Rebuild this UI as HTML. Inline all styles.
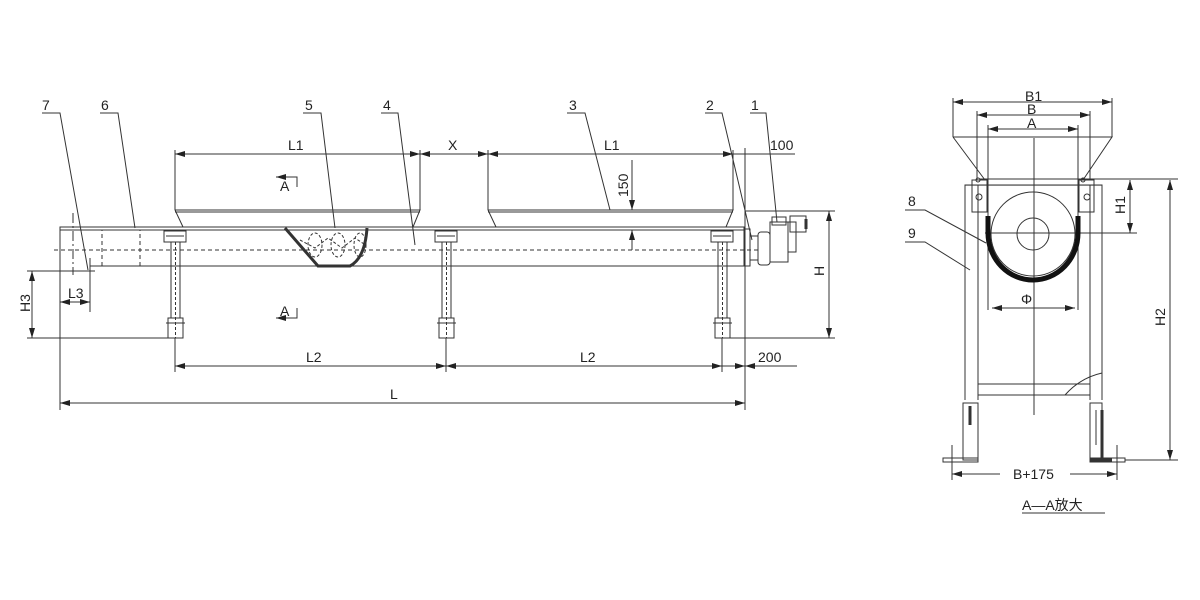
<!DOCTYPE html>
<html><head><meta charset="utf-8"><style>
html,body{margin:0;padding:0;background:#fff}
svg{display:block}
text{font-family:"Liberation Sans","Noto Sans CJK SC",sans-serif;font-size:14px;fill:#222}
</style></head><body>
<svg width="1200" height="600" viewBox="0 0 1200 600" xmlns="http://www.w3.org/2000/svg">
<defs>
<marker id="a" viewBox="0 0 10 6" refX="10" refY="3" markerWidth="10" markerHeight="6" orient="auto-start-reverse" markerUnits="userSpaceOnUse"><path d="M0,0 L10,3 L0,6 z" fill="#222"/></marker>
</defs>
<g fill="none" stroke="#333" stroke-width="1">
<!-- trough -->
<rect x="60" y="227" width="684" height="3"/>
<line x1="60" y1="230" x2="60" y2="266"/>
<line x1="90" y1="266" x2="744" y2="266"/>
<line x1="744" y1="230" x2="744" y2="266"/>
<line x1="54" y1="250" x2="760" y2="250" stroke-dasharray="4,3"/>
<rect x="102" y="230" width="38" height="36" stroke-dasharray="4,3"/>
<line x1="73" y1="213" x2="73" y2="275" stroke-dasharray="10,3,2,3"/>
<line x1="90" y1="258" x2="90" y2="312"/>
<line x1="60" y1="266" x2="60" y2="410"/>
<!-- hoppers -->
<path d="M175,210 L420,210 L413,227 M175,210 L183,227"/>
<line x1="175" y1="212" x2="420" y2="212"/>
<path d="M488,210 L733,210 L726,227 M488,210 L496,227"/>
<line x1="488" y1="212" x2="733" y2="212"/>
<!-- screw section -->
<path d="M285,228 L318,266 L350,266 Q365,258 367,228" stroke-width="3"/>
<path d="M300,240 L315,248 L328,238 L342,248 L355,238 L364,244" stroke-dasharray="3,2"/>
<ellipse cx="315" cy="245" rx="7" ry="12" stroke-dasharray="3,2"/>
<ellipse cx="338" cy="245" rx="7" ry="12" stroke-dasharray="3,2"/>
<ellipse cx="360" cy="245" rx="6" ry="12" stroke-dasharray="3,2"/>
<!-- legs -->
<g id="leg">
<rect x="164" y="231" width="22" height="11"/>
<line x1="166" y1="236" x2="184" y2="236"/>
<rect x="171" y="242" width="9" height="76"/>
<line x1="175.5" y1="242" x2="175.5" y2="338" stroke-dasharray="3,2"/>
<rect x="168" y="318" width="15" height="20"/>
<line x1="166" y1="323" x2="185" y2="323"/>
</g>
<use href="#leg" x="271"/>
<use href="#leg" x="547"/>
<!-- drive -->
<rect x="744" y="229" width="6" height="37"/>
<rect x="750" y="236" width="8" height="24"/>
<rect x="758" y="232" width="12" height="33" rx="3"/>
<rect x="770" y="222" width="18" height="40"/>
<rect x="772" y="217" width="14" height="8"/>
<rect x="788" y="222" width="8" height="30"/>
<rect x="790" y="216" width="16" height="16"/>
<line x1="806" y1="219" x2="806" y2="229" stroke-width="3"/>
<!-- dims main -->
<line x1="175" y1="150" x2="175" y2="210"/>
<line x1="420" y1="150" x2="420" y2="210"/>
<line x1="488" y1="150" x2="488" y2="210"/>
<line x1="733" y1="150" x2="733" y2="210"/>
<line x1="745" y1="148" x2="745" y2="410"/>
<line x1="175" y1="154" x2="420" y2="154" marker-start="url(#a)" marker-end="url(#a)"/>
<line x1="420" y1="154" x2="488" y2="154" marker-start="url(#a)" marker-end="url(#a)"/>
<line x1="488" y1="154" x2="733" y2="154" marker-start="url(#a)" marker-end="url(#a)"/>
<line x1="733" y1="154" x2="795" y2="154"/>
<line x1="632" y1="160" x2="632" y2="210" marker-end="url(#a)"/>
<line x1="632" y1="250" x2="632" y2="230" marker-end="url(#a)"/>
<line x1="175" y1="338" x2="175" y2="372"/>
<line x1="446" y1="338" x2="446" y2="372"/>
<line x1="722" y1="338" x2="722" y2="372"/>
<line x1="175" y1="366" x2="446" y2="366" marker-start="url(#a)" marker-end="url(#a)"/>
<line x1="446" y1="366" x2="722" y2="366" marker-start="url(#a)" marker-end="url(#a)"/>
<line x1="722" y1="366" x2="745" y2="366" marker-end="url(#a)"/>
<line x1="768" y1="366" x2="745" y2="366" marker-end="url(#a)"/>
<line x1="768" y1="366" x2="797" y2="366"/>
<line x1="60" y1="403" x2="745" y2="403" marker-start="url(#a)" marker-end="url(#a)"/>
<line x1="745" y1="211" x2="835" y2="211"/>
<line x1="730" y1="338" x2="835" y2="338"/>
<line x1="829" y1="211" x2="829" y2="338" marker-start="url(#a)" marker-end="url(#a)"/>
<line x1="27" y1="271" x2="95" y2="271"/>
<line x1="27" y1="338" x2="170" y2="338"/>
<line x1="32" y1="271" x2="32" y2="338" marker-start="url(#a)" marker-end="url(#a)"/>
<line x1="60" y1="302" x2="90" y2="302" marker-start="url(#a)" marker-end="url(#a)"/>
<!-- section marks -->
<path d="M278,177 L297,177 L297,187"/><line x1="288" y1="177" x2="276" y2="177" marker-end="url(#a)"/>
<path d="M278,318 L297,318 L297,308"/><line x1="288" y1="318" x2="276" y2="318" marker-end="url(#a)"/>
<!-- leaders -->
<path d="M42,113 L60,113 L88,270"/>
<path d="M100,113 L118,113 L135,228"/>
<path d="M303,113 L321,113 L335,228"/>
<path d="M381,113 L398,113 L415,245"/>
<path d="M567,113 L585,113 L610,210"/>
<path d="M705,113 L722,113 L752,240"/>
<path d="M750,113 L766,113 L777,222"/>

<!-- side view -->
<line x1="953" y1="98" x2="953" y2="137"/><line x1="1112" y1="98" x2="1112" y2="137"/>
<line x1="977" y1="111" x2="977" y2="180"/><line x1="1090" y1="111" x2="1090" y2="180"/>
<line x1="988" y1="125" x2="988" y2="310"/><line x1="1078" y1="125" x2="1078" y2="310"/>
<line x1="953" y1="102" x2="1112" y2="102" marker-start="url(#a)" marker-end="url(#a)"/>
<line x1="977" y1="115" x2="1090" y2="115" marker-start="url(#a)" marker-end="url(#a)"/>
<line x1="988" y1="129" x2="1078" y2="129" marker-start="url(#a)" marker-end="url(#a)"/>
<path d="M953,137 L1112,137 L1083,180 M953,137 L985,180"/>
<line x1="980" y1="179" x2="1178" y2="179"/>
<rect x="965" y="185" width="137" height="0.1"/>
<path d="M965,185 L1102,185 M965,185 L965,400 M978,185 L978,400 M1090,185 L1090,400 M1102,185 L1102,400"/>
<rect x="978" y="384" width="112" height="11"/>
<path d="M1065,395 Q1080,378 1102,373"/>
<line x1="1034" y1="138" x2="1034" y2="415"/>
<line x1="985" y1="233" x2="1137" y2="233"/>
<circle cx="1033" cy="234" r="42"/>
<circle cx="1033" cy="234" r="16"/>
<path d="M988,216 L988,233 A45,47 0 0 0 1078,233 L1078,216" stroke="#111" stroke-width="5"/>
<rect x="972" y="180" width="15" height="32"/>
<rect x="1079" y="180" width="15" height="32"/>
<circle cx="979" cy="197" r="3"/><circle cx="1087" cy="197" r="3"/>
<circle cx="978" cy="180" r="2"/><circle cx="1083" cy="180" r="2"/>
<line x1="992" y1="308" x2="1075" y2="308" marker-start="url(#a)" marker-end="url(#a)"/>
<line x1="1125" y1="233" x2="1137" y2="233"/>
<line x1="1130" y1="180" x2="1130" y2="233" marker-start="url(#a)" marker-end="url(#a)"/>
<line x1="1125" y1="460" x2="1178" y2="460"/>
<line x1="1170" y1="180" x2="1170" y2="460" marker-start="url(#a)" marker-end="url(#a)"/>
<!-- feet -->
<rect x="963" y="403" width="15" height="57"/>
<rect x="943" y="458" width="35" height="4"/>
<line x1="970" y1="406" x2="970" y2="425" stroke-width="3"/>
<rect x="1090" y="403" width="12" height="57"/>
<line x1="1102" y1="410" x2="1102" y2="460" stroke-width="3"/>
<rect x="1090" y="458" width="35" height="4"/>
<line x1="1090" y1="460" x2="1112" y2="460" stroke-width="3"/>
<line x1="1096" y1="410" x2="1096" y2="445"/>
<line x1="952" y1="445" x2="952" y2="480"/><line x1="1117" y1="445" x2="1117" y2="480"/>
<line x1="1000" y1="474" x2="952" y2="474" marker-end="url(#a)"/>
<line x1="1070" y1="474" x2="1117" y2="474" marker-end="url(#a)"/>
<line x1="1022" y1="513" x2="1105" y2="513"/>
<path d="M905,210 L925,210 L986,243"/>
<path d="M905,242 L925,242 L970,270"/>
</g>
<!-- text -->
<text x="42" y="110">7</text><text x="101" y="110">6</text><text x="305" y="110">5</text><text x="383" y="110">4</text>
<text x="569" y="110">3</text><text x="706" y="110">2</text><text x="751" y="110">1</text>
<text x="288" y="150">L1</text><text x="448" y="150">X</text><text x="604" y="150">L1</text><text x="770" y="150">100</text>
<text x="280" y="191">A</text><text x="280" y="316">A</text>
<text x="306" y="362">L2</text><text x="580" y="362">L2</text><text x="758" y="362">200</text>
<text x="390" y="399">L</text>
<text x="68" y="298">L3</text>
<text transform="translate(628,197) rotate(-90)">150</text>
<text transform="translate(824,276) rotate(-90)">H</text>
<text transform="translate(30,312) rotate(-90)">H3</text>
<text x="1025" y="101">B1</text><text x="1027" y="114">B</text><text x="1027" y="128">A</text>
<text x="1021" y="304">Φ</text>
<text transform="translate(1125,214) rotate(-90)">H1</text>
<text transform="translate(1165,326) rotate(-90)">H2</text>
<text x="1013" y="479">B+175</text>
<text x="1022" y="510">A—A放大</text>
<text x="908" y="206">8</text><text x="908" y="238">9</text>
</svg>
</body></html>
